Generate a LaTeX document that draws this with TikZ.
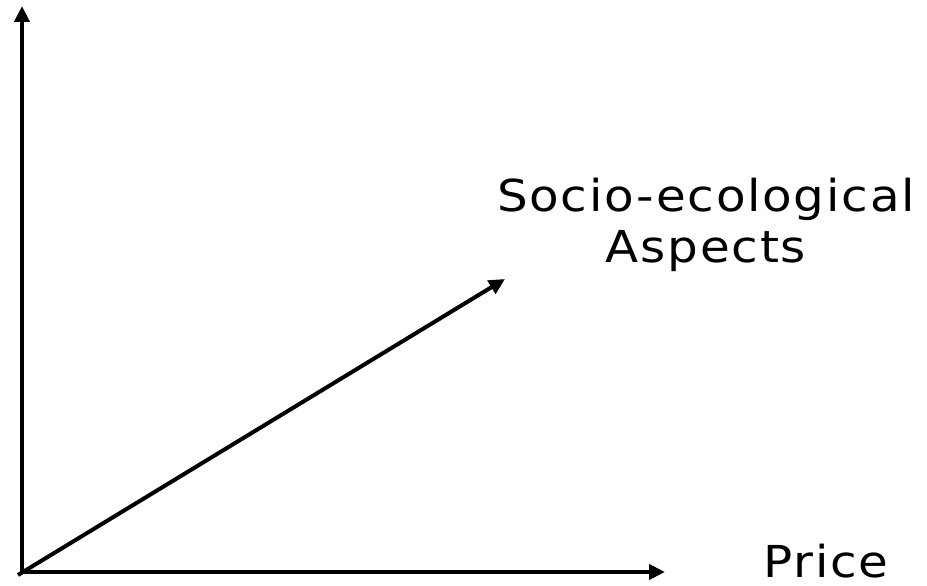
\documentclass[tikz,border=0pt]{standalone}
\usepackage{fontspec}
\setmainfont{DejaVu Sans}
\newfontfamily\lblfont[FakeStretch=1.1,LetterSpace=4]{DejaVu Sans}
\usetikzlibrary{arrows.meta}
\tikzset{
  axis/.style={line width=4pt, -{Triangle[length=16pt,width=15pt]}},
  lbl/.style={font=\lblfont\fontsize{44}{51}\selectfont, inner sep=0pt, align=center, anchor=base}
}
\begin{document}
\begin{tikzpicture}[x=1pt,y=1pt]
\useasboundingbox (0,0) rectangle (927,586);
\coordinate (o) at (22,14);
\coordinate (od) at (18,11);
\coordinate (ytip) at (22,580);
\coordinate (xtip) at (665,14);
\coordinate (dtip) at (505,307);
\draw[axis] (o) -- (ytip);
\draw[axis] (o) -- (xtip);
\draw[axis] (od) -- (dtip);
\node[lbl] (soc) at (706,323) {Socio-ecological\\Aspects};
\node[lbl] (price) at (826,8) {Price};
\end{tikzpicture}
\end{document}
